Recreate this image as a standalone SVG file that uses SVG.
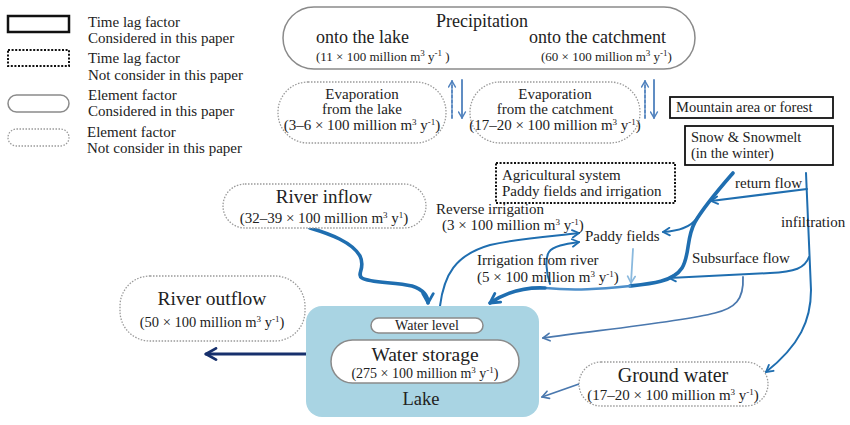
<svg xmlns="http://www.w3.org/2000/svg" width="850" height="425" viewBox="0 0 850 425">
<style>
text{font-family:"Liberation Serif","DejaVu Serif",serif;fill:#222;}
.t13{font-size:13px}.t14{font-size:14px}.t145{font-size:14.5px}.t15{font-size:15px}.t18{font-size:18px}.t19{font-size:19px}.t20{font-size:20px}
.sup{font-size:9px}
.mid{text-anchor:middle}
.el{fill:#fff;stroke:#8a8a8a;stroke-width:1.5}
.eld{fill:#fff;stroke:#9a9a9a;stroke-width:1.3;stroke-dasharray:1.5 1.5}
.tl{fill:#fff;stroke:#111;stroke-width:1.8}
.tld{fill:#fff;stroke:#111;stroke-width:2;stroke-dasharray:2 1.6}
.c{fill:none;stroke-linecap:round;stroke-linejoin:round}
.blue{stroke:#1f6eb0}
.thick{stroke-width:3.6}
.thin{stroke-width:2}
.light{stroke:#8ab9de;stroke-width:1.8}
.steel{stroke:#4a78ae;stroke-width:1.8}
.navy{stroke:#17306c;stroke-width:3.2}
.evap{stroke:#4f81bd;stroke-width:1.8}
</style>
<defs>
<marker id="mThick" viewBox="0 0 12 12" refX="10" refY="6" markerWidth="14" markerHeight="14" markerUnits="userSpaceOnUse" orient="auto"><path d="M2,1.5 L10,6 L2,10.5" fill="none" stroke="#1f6eb0" stroke-width="2.4" stroke-linecap="round" stroke-linejoin="round"/></marker>
<marker id="mThin" viewBox="0 0 12 12" refX="10" refY="6" markerWidth="10" markerHeight="10" markerUnits="userSpaceOnUse" orient="auto"><path d="M2,1.5 L10,6 L2,10.5" fill="none" stroke="#1f6eb0" stroke-width="2.2" stroke-linecap="round" stroke-linejoin="round"/></marker>
<marker id="mLight" viewBox="0 0 12 12" refX="10" refY="6" markerWidth="10" markerHeight="10" markerUnits="userSpaceOnUse" orient="auto"><path d="M2,1.5 L10,6 L2,10.5" fill="none" stroke="#8ab9de" stroke-width="2" stroke-linecap="round" stroke-linejoin="round"/></marker>
<marker id="mSteel" viewBox="0 0 12 12" refX="10" refY="6" markerWidth="10" markerHeight="10" markerUnits="userSpaceOnUse" orient="auto"><path d="M2,1.5 L10,6 L2,10.5" fill="none" stroke="#4a78ae" stroke-width="2" stroke-linecap="round" stroke-linejoin="round"/></marker>
<marker id="mNavy" viewBox="0 0 12 12" refX="10" refY="6" markerWidth="15" markerHeight="15" markerUnits="userSpaceOnUse" orient="auto"><path d="M2,1.5 L10,6 L2,10.5" fill="none" stroke="#17306c" stroke-width="2.2" stroke-linecap="round" stroke-linejoin="round"/></marker>
<marker id="mEvap" viewBox="0 0 12 12" refX="10" refY="6" markerWidth="9" markerHeight="9" markerUnits="userSpaceOnUse" orient="auto"><path d="M2,1.5 L10,6 L2,10.5" fill="none" stroke="#4f81bd" stroke-width="2" stroke-linecap="round" stroke-linejoin="round"/></marker>
</defs>

<g id="legend">
<rect class="tl" x="8" y="16" width="61" height="16" style="stroke-width:2.5"/>
<text class="t15" x="88" y="27">Time lag factor</text>
<text class="t15" x="88" y="43">Considered in this paper</text>
<rect class="tld" x="8" y="50" width="61" height="16"/>
<text class="t15" x="88" y="63">Time lag factor</text>
<text class="t15" x="88" y="80">Not consider in this paper</text>
<rect class="el" x="8" y="95" width="61" height="17" rx="8.5"/>
<text class="t15" x="88" y="100">Element factor</text>
<text class="t15" x="88" y="116">Considered in this paper</text>
<rect class="eld" x="8" y="129" width="61" height="17" rx="8.5"/>
<text class="t15" x="87" y="137">Element factor</text>
<text class="t15" x="87" y="153">Not consider in this paper</text>
</g>

<g id="connectors">
<path class="c blue thick" d="M310,228 C330,234 352,242 360,256 C366,268 356,274 362,278 C370,283 395,282 412,286 C424,290 428,296 428,303" marker-end="url(#mThick)"/>
<path class="c blue thin" d="M440,306 C444,275 455,255 490,245 C520,238 555,236 579,233" marker-end="url(#mThin)"/>
<path class="c blue thin" d="M550,284 C546,272 545,258 549,252 C553,246 565,244 579,242" marker-end="url(#mThin)"/>
<path class="c blue thick" d="M733,173 C720,188 705,205 695,222 C686,238 690,255 682,268 C673,282 650,284 630,286"/>
<path class="c" style="stroke:#4d8fca;stroke-width:2.6" d="M630,286 C600,289 575,291 545,288"/>
<path class="c blue thick" d="M545,288 C525,287 505,293 490,303" marker-end="url(#mThick)"/>
<path class="c light" d="M633,249 L631,283" marker-end="url(#mLight)"/>
<path class="c blue thin" d="M807,189 L711,201" marker-end="url(#mThin)"/>
<path class="c blue thin" d="M697,218 C690,228 678,231 663,232" marker-end="url(#mThin)"/>
<path class="c blue thin" d="M806,173 L811,290 C811,320 800,345 766,372" marker-end="url(#mThin)"/>
<path class="c blue thin" d="M809,257 C805,268 795,272 770,273 L669,278" marker-end="url(#mThin)"/>
<path class="c steel" d="M743,277 C744,300 735,308 715,313 C680,322 600,330 543,338" marker-end="url(#mSteel)"/>
<path class="c steel" d="M579,384 L542,397" marker-end="url(#mSteel)"/>
<path class="c navy" d="M306,354 L206,354" marker-end="url(#mNavy)"/>
<path class="c evap" d="M452,118 L452,81" style="stroke-dasharray:3 2" marker-end="url(#mEvap)"/>
<path class="c evap" d="M462,80 L462,118" marker-end="url(#mEvap)"/>
<path class="c evap" d="M645,118 L645,81" style="stroke-dasharray:3 2" marker-end="url(#mEvap)"/>
<path class="c evap" d="M654,80 L654,118" marker-end="url(#mEvap)"/>
</g>

<g id="precipitation">
<rect class="el" x="283" y="7" width="412" height="62" rx="31"/>
<text class="t18 mid" x="482" y="27">Precipitation</text>
<text class="t18" x="316" y="43">onto the lake</text>
<text class="t13" x="316" y="61">(11 × 100 million m<tspan class="sup" dy="-5">3</tspan><tspan dy="5"> y</tspan><tspan class="sup" dy="-5">-1</tspan><tspan dy="5"> )</tspan></text>
<text class="t18" x="529" y="43">onto the catchment</text>
<text class="t13" x="541" y="61">(60 × 100 million m<tspan class="sup" dy="-5">3</tspan><tspan dy="5"> y</tspan><tspan class="sup" dy="-5">-1</tspan><tspan dy="5">)</tspan></text>
</g>

<g id="evap-lake">
<rect class="eld" x="278" y="82" width="168" height="61" rx="30"/>
<text class="t15 mid" x="362" y="99">Evaporation</text>
<text class="t15 mid" x="362" y="114">from the  lake</text>
<text class="t15 mid" x="362" y="130">(3–6 × 100 million m<tspan class="sup" dy="-5">3</tspan><tspan dy="5"> y</tspan><tspan class="sup" dy="-5">-1</tspan><tspan dy="5">)</tspan></text>
</g>

<g id="evap-catchment">
<rect class="eld" x="470" y="82" width="170" height="61" rx="30"/>
<text class="t15 mid" x="555" y="99">Evaporation</text>
<text class="t15 mid" x="555" y="114">from the  catchment</text>
<text class="t15 mid" x="555" y="130">(17–20 × 100 million m<tspan class="sup" dy="-5">3</tspan><tspan dy="5"> y</tspan><tspan class="sup" dy="-5">-1</tspan><tspan dy="5">)</tspan></text>
</g>

<g id="mountain">
<rect class="tl" x="670" y="97" width="163" height="21"/>
<text class="t145" x="676" y="112">Mountain area or forest</text>
</g>

<g id="snow">
<rect class="tl" x="685" y="126" width="148" height="39"/>
<text class="t145" x="691" y="142">Snow &amp; Snowmelt</text>
<text class="t145" x="691" y="158">(in the winter)</text>
</g>

<g id="agricultural">
<rect class="tld" x="496" y="163" width="179" height="40"/>
<text class="t15" x="502" y="180">Agricultural system</text>
<text class="t15" x="502" y="196">Paddy fields and irrigation</text>
</g>

<g id="river-inflow">
<rect class="eld" x="223" y="184" width="203" height="44" rx="22"/>
<text class="t19 mid" x="324" y="203">River inflow</text>
<text class="t15 mid" x="324" y="223">(32–39 × 100 million m<tspan class="sup" dy="-5">3</tspan><tspan dy="5"> y</tspan><tspan class="sup" dy="-5">1</tspan><tspan dy="5">)</tspan></text>
</g>

<g id="river-outflow">
<rect class="eld" x="120" y="276" width="185" height="65" rx="30"/>
<text class="t19 mid" x="212" y="305" style="font-size:19.5px">River outflow</text>
<text class="t145 mid" x="212" y="327">(50 × 100 million m<tspan class="sup" dy="-5">3</tspan><tspan dy="5"> y</tspan><tspan class="sup" dy="-5">-1</tspan><tspan dy="5">)</tspan></text>
</g>

<g id="lake">
<rect x="306" y="306" width="233" height="111" rx="16" fill="#a9d4e3"/>
<rect class="el" x="371" y="318" width="112" height="15" rx="7.5"/>
<text class="t14 mid" x="427" y="330">Water level</text>
<rect class="el" x="331" y="340" width="188" height="43" rx="21.5"/>
<text class="t19 mid" x="425" y="361" style="font-size:19.5px">Water storage</text>
<text class="t14 mid" x="425" y="378">(275 × 100 million m<tspan class="sup" dy="-5">3</tspan><tspan dy="5"> y</tspan><tspan class="sup" dy="-5">-1</tspan><tspan dy="5">)</tspan></text>
<text class="t18 mid" x="421" y="405" style="font-size:18.5px">Lake</text>
</g>

<g id="ground-water">
<rect class="eld" x="579" y="362" width="189" height="44" rx="22"/>
<text class="t20 mid" x="673" y="382">Ground water</text>
<text class="t15 mid" x="673" y="400">(17–20 × 100 million m<tspan class="sup" dy="-5">3</tspan><tspan dy="5"> y</tspan><tspan class="sup" dy="-5">-1</tspan><tspan dy="5">)</tspan></text>
</g>

<g id="labels">
<text class="t15" x="436" y="214">Reverse irrigation</text>
<text class="t15" x="442" y="230">(3 × 100 million m<tspan class="sup" dy="-5">3</tspan><tspan dy="5"> y</tspan><tspan class="sup" dy="-5">-1</tspan><tspan dy="5">)</tspan></text>
<text class="t15" x="585" y="241">Paddy fields</text>
<text class="t15" x="477" y="265">Irrigation from river</text>
<text class="t15" x="477" y="282">(5 × 100 million m<tspan class="sup" dy="-5">3</tspan><tspan dy="5"> y</tspan><tspan class="sup" dy="-5">-1</tspan><tspan dy="5">)</tspan></text>
<text class="t15" x="735" y="188">return flow</text>
<text class="t15" x="781" y="227">infiltration</text>
<text class="t15" x="692" y="263">Subsurface flow</text>
</g>
</svg>
